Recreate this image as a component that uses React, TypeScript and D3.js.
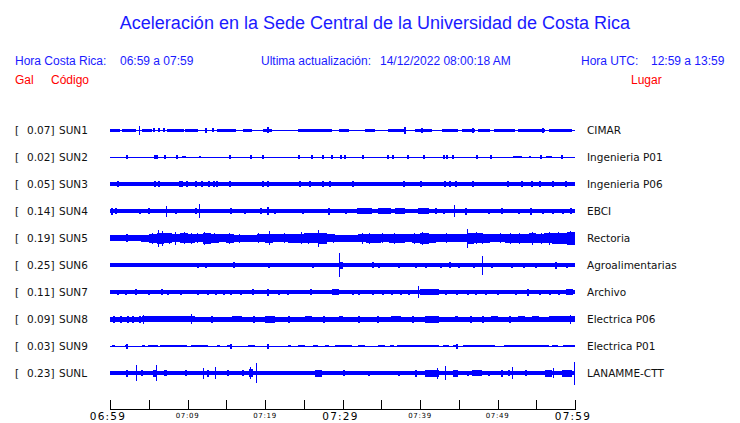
import React from "react";
import * as d3 from "d3";

const W = 740;
const H = 423;

// ---------- data ----------
const codes = ["SUN1", "SUN2", "SUN3", "SUN4", "SUN5", "SUN6", "SUN7", "SUN8", "SUN9", "SUNL"];
const places = ["CIMAR", "Ingenieria P01", "Ingenieria P06", "EBCI", "Rectoria", "Agroalimentarias", "Archivo", "Electrica P06", "Electrica P01", "LANAMME-CTT"];
const peakGal = ["0.07", "0.02", "0.05", "0.14", "0.19", "0.25", "0.11", "0.09", "0.03", "0.23"];
// background noise half-amplitude per station (trace units)
const baseAmp = [0, 0, 1.4, 1.5, 2.5, 1.5, 1.6, 2.0, 0, 1.6];

// bursts: [startMinute, endMinute, amplitude]
const sun1Bursts = [[0, 1.3, 1.0], [1.5, 3.4, 1.0], [4.1, 5.4, 1.0], [7.3, 9.5, 1.0], [9.7, 11.4, 1.0], [13.8, 16.3, 1.0], [17.2, 18.3, 1.0], [19.8, 20.9, 1.0], [24.3, 28.6, 1.0], [29.5, 30.8, 1.0], [32.9, 34.2, 1.0], [35.9, 38.1, 1.0], [39.4, 41.5, 1.0], [42.8, 44.9, 1.0], [45.4, 47.1, 1.0], [47.5, 49.0, 1.0], [49.5, 52.3, 1.0], [52.7, 56.1, 1.0], [56.6, 59.6, 1.0]];
const sun1Spikes = [[3.7, 4], [20.3, 2.3], [37.9, 3], [40.1, 2], [46.7, 2], [55.7, 2], [5.6, 1.8], [6.2, 1.8], [6.9, 1.8], [12.3, 2], [13.1, 1.8]];

const sun2Bursts = [[9.3, 9.8, 0.9], [11.5, 11.8, 0.9], [52.0, 53.1, 0.9], [54.0, 54.3, 0.9], [56.3, 57.0, 0.9]];
const sun2Spikes = [[2.0, 1.2], [5.7, 1.2], [5.9, 1.2], [7.0, 1.2], [8.5, 1.2], [15.4, 1.2], [18.1, 1.2], [19.6, 1.2], [24.3, 1.2], [25.9, 1.2], [27.3, 1.2], [28.5, 1.2], [29.7, 1.2], [30.2, 1.2], [32.5, 1.2], [35.7, 1.2], [36.4, 1.2], [38.3, 1.2], [40.4, 1.2], [43.0, 1.2], [43.4, 1.2], [44.1, 1.2], [47.2, 1.2], [49.0, 1.2], [55.5, 1.2], [58.2, 1.2]];

const sun3Bursts: number[][] = [];
const sun3Spikes = [[0.9, 2.5], [5.7, 2.5], [6.2, 2.5], [8.9, 2.5], [9.2, 2.5], [9.8, 2.5], [11.0, 2.5], [11.8, 2.5], [12.6, 2.5], [13.3, 2.5], [13.7, 2.5], [15.3, 2.5], [19.6, 2.5], [20.2, 2.5], [24.4, 2.5], [25.7, 2.5], [27.3, 2.5], [28.3, 2.5], [31.2, 2.5], [37.8, 2.5], [40.0, 2.5], [43.1, 2.5], [43.7, 2.5], [44.5, 2.5], [46.7, 2.5], [51.2, 2.5], [53.0, 2.5], [54.3, 2.5], [55.3, 2.5], [57.0, 2.5], [58.7, 2.5]];

const sun4Bursts = [[31.9, 33.8, 2.5], [34.6, 36.3, 2.2], [36.8, 38.1, 2.5], [39.8, 41.1, 2.2]];
const sun4Spikes = [[7.2, 5], [11.5, 6.5], [44.4, 5.5], [20.2, 3.5], [28.1, 3], [54.2, 3], [0.1, 3], [0.6, 2.5], [3.7, 2], [4.9, 2.5], [8.4, 2], [11.0, 2.5], [15.5, 2.5], [17.3, 2], [19.4, 2.5], [21.1, 2], [24.8, 2], [30.3, 2], [41.9, 2.5], [43.0, 2], [45.8, 3], [48.8, 2], [50.5, 2.5], [52.7, 2], [55.7, 2], [57.0, 2], [58.3, 2], [59.4, 2.5]];

// Rectoria: envelope per minute (0..60)
const sun5Envelope = [2.5, 2.5, 2.5, 2.5, 3, 4, 5, 4.5, 3.5, 4.5, 4, 3.5, 5, 4, 3.5, 4, 3, 3, 3, 3.5, 4, 3.5, 3.5, 4, 4, 4.5, 4.5, 5, 3.5, 3, 3, 3, 3.5, 4, 4, 3.5, 4, 4, 3.5, 4, 5, 4, 3.5, 3.5, 3.5, 3.5, 5, 4.5, 4, 3.5, 3.5, 4, 4, 4, 4.5, 4, 4.5, 5, 5, 6, 6];
const sun5Bursts: number[][] = [];
const sun5Spikes = [[6.2, 8], [6.75, 7], [8.4, 6], [9.5, 5.5], [12.1, 6], [15.3, 5], [19.1, 4.5], [20.5, 6.5], [26.9, 8], [32.5, 5], [46.0, 9], [54.4, 6], [56.6, 6], [57.8, 5.5], [2.1, 3.5], [5.4, 5], [7.6, 5], [10.4, 5], [11.2, 4.5], [13.4, 4.5], [16.6, 4], [22.4, 4.5], [24.6, 5.5], [25.5, 5], [28.8, 4], [33.4, 5], [35.1, 4.5], [36.7, 5], [39.2, 5], [40.3, 6], [41.0, 5], [43.4, 4.5], [47.2, 5.5], [48.0, 5], [50.3, 4.5], [51.6, 5], [52.8, 5], [55.6, 5], [59.3, 6.5]];

const sun6Bursts = [[29.6, 30.0, 3]];
const sun6Spikes = [[29.5, 11.5], [48.0, 9], [15.9, 2.5], [33.8, 2.5], [43.7, 2.5], [57.4, 3], [53.3, 2], [12.3, 2], [11.2, 2], [20.4, 2], [26.1, 2], [34.6, 2], [37.2, 2], [39.3, 2], [40.6, 2], [42.6, 2], [44.9, 2], [46.9, 2], [49.2, 2], [51.8, 2], [54.8, 2], [58.9, 2], [2.4, 1.8], [5.6, 1.8], [6.7, 1.8], [7.5, 1.8], [18.9, 1.8], [21.7, 1.8]];

const sun7Bursts = [[28.6, 29.5, 2.5], [40.0, 42.4, 2.5], [58.9, 59.8, 2.5]];
const sun7Spikes = [[39.7, 5.2], [20.2, 3], [6.6, 2.5], [18.3, 2.5], [53.8, 3], [4.9, 2], [0.9, 2], [11.2, 2], [12.5, 2], [13.5, 2], [14.6, 2], [15.5, 2], [16.8, 2], [21.7, 2], [22.8, 2], [25.8, 2.5], [31.2, 2], [32.0, 2], [33.8, 2], [35.1, 2], [36.3, 2], [37.4, 2], [38.5, 2], [43.2, 2], [44.7, 2], [46.0, 2], [47.1, 2], [48.4, 2], [49.9, 2], [52.3, 2], [55.3, 2], [56.6, 2], [57.8, 2], [1.9, 2], [3.2, 2.5], [7.3, 2], [9.0, 2]];

const sun8Bursts = [[4.1, 11.0, 2.7], [15.7, 17.0, 2.7], [20.0, 21.3, 3], [25.2, 26.0, 2.7], [29.5, 30.1, 2.7], [36.3, 37.6, 2.7], [40.6, 42.4, 3], [44.5, 44.9, 2.7], [49.2, 50.1, 2.7], [52.7, 53.5, 2.7], [54.4, 55.3, 2.7], [56.6, 60, 2.7]];
const sun8Spikes = [[4.3, 4], [10.5, 4.5], [59.4, 4], [0.4, 3], [1.3, 3], [2.2, 3], [2.8, 3], [3.7, 3], [13.0, 3], [18.5, 3], [23.0, 3], [27.5, 3], [32.0, 3], [34.5, 3], [39.0, 3], [46.5, 3], [48.0, 3], [51.5, 3]];

const sun9Bursts = [[0.2, 0.6, 0.9], [1.9, 2.2, 0.9], [4.1, 4.5, 0.9], [4.9, 6.2, 0.9], [6.5, 9.9, 0.9], [10.5, 12.7, 0.9], [13.8, 14.2, 0.9], [15.1, 15.5, 0.9], [17.8, 18.7, 0.9], [20.2, 20.4, 0.9], [23.0, 23.4, 0.9], [24.3, 25.2, 0.9], [26.2, 26.9, 0.9], [27.7, 28.2, 0.9], [29.0, 31.2, 0.9], [32.0, 32.9, 0.9], [34.6, 35.5, 0.9], [36.1, 36.6, 0.9], [37.0, 42.4, 0.9], [43.0, 43.7, 0.9], [44.3, 44.9, 0.9], [45.6, 49.7, 0.9], [50.8, 56.6, 0.9], [57.0, 57.8, 0.9], [58.5, 60, 0.9]];
const sun9Spikes = [[2.0, 2], [15.5, 2], [20.2, 2], [44.7, 2]];

const sunLBursts = [[26.5, 27.3, 3], [40.6, 42.4, 3], [44.3, 44.9, 3], [46.7, 48.0, 2.5], [56.1, 57.0, 3], [58.3, 59.6, 3], [5.6, 5.9, 3], [7.0, 7.3, 2.5], [17.9, 18.4, 3.5]];
const sunLSpikes = [[3.3, 7.3], [5.9, 7.8], [18.8, 9.3], [60.0, 11], [43.2, 6.5], [42.2, 5], [18.1, 5.5], [13.5, 5.5], [12.0, 5], [51.9, 5.5], [57.2, 4.5], [2.0, 3], [4.0, 2.5], [9.7, 2.5], [12.5, 3], [15.1, 2.5], [17.0, 2.5], [30.1, 2.5], [33.3, 2], [37.2, 2], [39.4, 3], [46.0, 2], [48.8, 2], [50.5, 3], [51.4, 2.5], [53.5, 2.5]];

const burstsByStation = [sun1Bursts, sun2Bursts, sun3Bursts, sun4Bursts, sun5Bursts, sun6Bursts, sun7Bursts, sun8Bursts, sun9Bursts, sunLBursts];
const spikesByStation = [sun1Spikes, sun2Spikes, sun3Spikes, sun4Spikes, sun5Spikes, sun6Spikes, sun7Spikes, sun8Spikes, sun9Spikes, sunLSpikes];

const tickMinutes = [0, 5, 10, 15, 20, 25, 30, 35, 40, 45, 50, 55, 60];
const labelMinutes = [0, 10, 20, 30, 40, 50, 60];
const labelTexts = ["06:59", "07:09", "07:19", "07:29", "07:39", "07:49", "07:59"];
const labelMajor = [true, false, false, true, false, false, true];

// ---------- scales ----------
const x = d3.scaleLinear().domain([0, 60]).range([110, 575]);
const y = d3.scalePoint<string>().domain(codes).range([130, 373]);
const amp = d3.scaleLinear().domain([0, 10]).range([0, 10]);
const PEN = 0.5; // half pen width

const BLUE = "#0000ff";
const HEAD = "#1a1aff";
const RED = "#ff0000";
const sans = "'Liberation Sans', Arial, sans-serif";
const dejavu = "'DejaVu Sans', sans-serif";

function Trace({ i }: { i: number }) {
  const code = codes[i];
  const cy = y(code) as number;
  const base = amp(baseAmp[i]) + PEN;
  const bursts = burstsByStation[i];
  const spikes = spikesByStation[i];
  let envPath: string | null = null;
  if (code === "SUN5") {
    const area = d3
      .area<number>()
      .x((_, k) => x(k))
      .y0((d) => cy + amp(d) + PEN)
      .y1((d) => cy - amp(d) - PEN)
      .curve(d3.curveStepAfter);
    envPath = area(sun5Envelope);
  }
  return (
    <g fill={BLUE} shapeRendering="crispEdges">
      <rect x={x(0)} y={cy - base} width={x(60) - x(0)} height={2 * base} />
      {envPath && <path d={envPath} />}
      {bursts.map((b, k) => {
        const a = amp(b[2]) + PEN;
        return <rect key={"b" + k} x={x(b[0])} y={cy - a} width={Math.max(x(b[1]) - x(b[0]), 1)} height={2 * a} />;
      })}
      {spikes.map((s, k) => {
        const a = amp(s[1]) + PEN;
        const w = s[1] > 3.6 ? 1 : 2;
        return <rect key={"s" + k} x={Math.min(x(s[0]), x(60) - w)} y={cy - a} width={w} height={2 * a} />;
      })}
    </g>
  );
}

export default function App() {
  return (
    <svg width={W} height={H} style={{ position: "absolute", left: 0, top: 0, background: "#fff" }}>
      <rect width={W} height={H} fill="#fff" />
      <text x={375} y={29} textAnchor="middle" fontFamily={sans} fontSize={18} fill={HEAD}>
        Aceleración en la Sede Central de la Universidad de Costa Rica
      </text>
      <g fontFamily={sans} fontSize={12} fill={HEAD}>
        <text x={15} y={65}>Hora Costa Rica:</text>
        <text x={120} y={65}>06:59 a 07:59</text>
        <text x={261} y={65}>Ultima actualización:</text>
        <text x={380} y={65}>14/12/2022 08:00:18 AM</text>
        <text x={581} y={65}>Hora UTC:</text>
        <text x={651} y={65}>12:59 a 13:59</text>
      </g>
      <g fontFamily={sans} fontSize={12} fill={RED}>
        <text x={15} y={84}>Gal</text>
        <text x={51} y={84}>Código</text>
        <text x={631} y={84}>Lugar</text>
      </g>
      <g fontFamily={dejavu} fontSize={10.5} fill="#111">
        {codes.map((c, i) => {
          const cy = y(c) as number;
          return (
            <g key={c}>
              <text x={15} y={cy + 4}>[</text>
              <text x={54.5} y={cy + 4} textAnchor="end">{peakGal[i] + "]"}</text>
              <text x={59} y={cy + 4}>{c}</text>
              <text x={587} y={cy + 4}>{places[i]}</text>
            </g>
          );
        })}
      </g>
      {codes.map((c, i) => (
        <Trace key={c} i={i} />
      ))}
      <g stroke="#000" strokeWidth={1} shapeRendering="crispEdges">
        <line x1={x(0)} x2={x(60)} y1={409.5} y2={409.5} />
        {tickMinutes.map((m) => (
          <line key={m} x1={Math.round(x(m)) + 0.5} x2={Math.round(x(m)) + 0.5} y1={400} y2={409.5} />
        ))}
      </g>
      <g fontFamily={dejavu} fill="#000" textAnchor="middle">
        {labelMinutes.map((m, k) => (
          <text
            key={m}
            x={x(m) - (labelMajor[k] ? 2 : 0)}
            y={labelMajor[k] ? 419.5 : 417.5}
            fontSize={labelMajor[k] ? 10.5 : 7}
            letterSpacing={labelMajor[k] ? 1.2 : 0.7}
          >
            {labelTexts[k]}
          </text>
        ))}
      </g>
    </svg>
  );
}
